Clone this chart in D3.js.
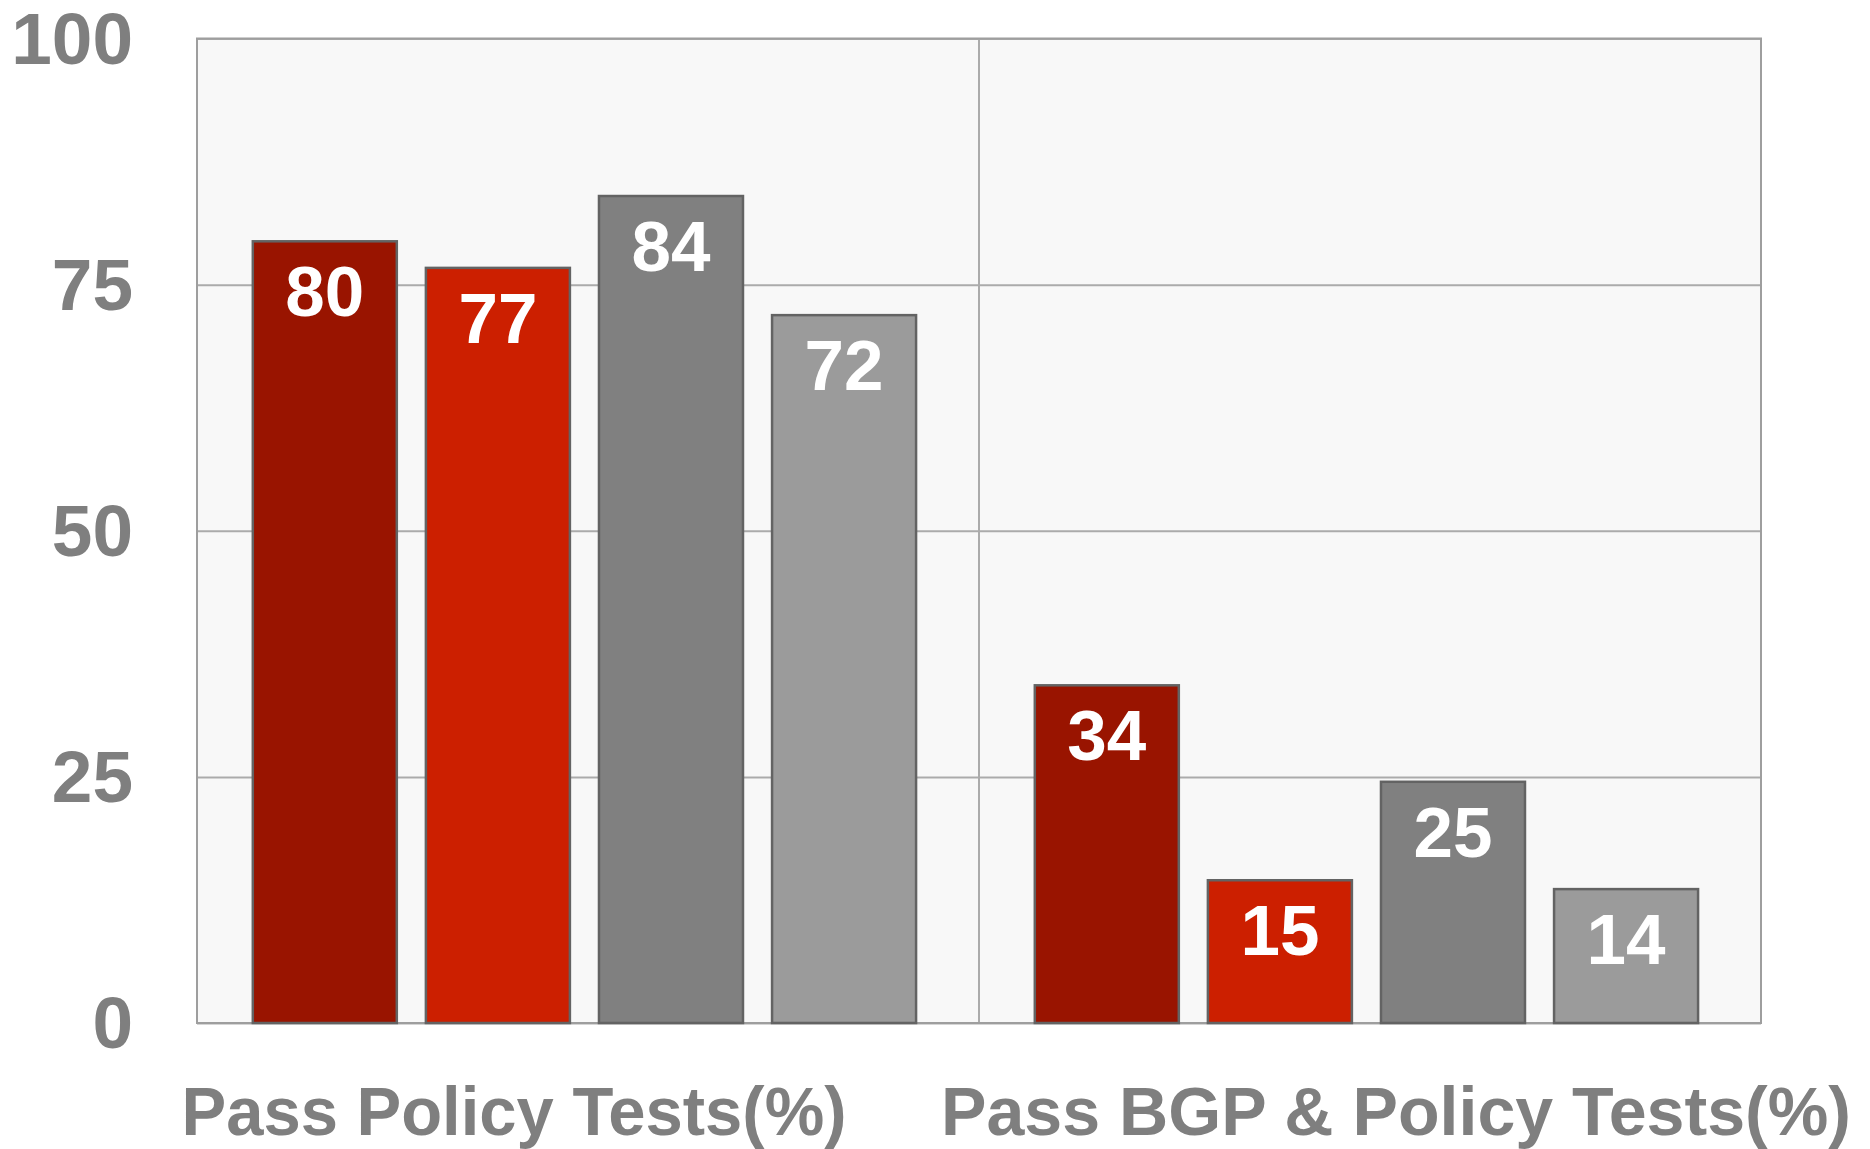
<!DOCTYPE html>
<html>
<head>
<meta charset="utf-8">
<script src="https://cdn.jsdelivr.net/npm/d3@7"></script>
<style>
  body { margin: 0; background: #fff; }
  text { font-family: "Liberation Sans", Arial, Helvetica, sans-serif; font-weight: bold; }
</style>
</head>
<body>
<div id="chart"></div>
<script>
/* Data */
const groups = ["Pass Policy Tests(%)", "Pass BGP & Policy Tests(%)"]
const series = ["s1", "s2", "s3", "s4"]
const colors = ["#991400", "#cc1f00", "#808080", "#9b9b9b"]
const policyValues = [79.4, 76.7, 84.0, 71.9]
const bgpPolicyValues = [34.3, 14.5, 24.5, 13.6]
const policyLabels = ["80", "77", "84", "72"]
const bgpPolicyLabels = ["34", "15", "25", "14"]
const yTicks = [0, 25, 50, 75, 100]

const rows = groups.map((g, i) => ({
  group: g,
  values: series.map((s, j) => ({
    series: s,
    color: colors[j],
    value: (i === 0 ? policyValues : bgpPolicyValues)[j],
    label: (i === 0 ? policyLabels : bgpPolicyLabels)[j]
  }))
}))

/* Chart Dimensions */
const dimensions = {
  width: 1870,
  height: 1149,
  margin: { top: 38.5, right: 109, bottom: 126, left: 197 }
}
dimensions.boundedWidth = dimensions.width - dimensions.margin.left - dimensions.margin.right
dimensions.boundedHeight = dimensions.height - dimensions.margin.top - dimensions.margin.bottom

const svg = d3.select("#chart").append("svg")
    .attr("width", dimensions.width)
    .attr("height", dimensions.height)

const bounds = svg.append("g")
    .attr("transform", `translate(${dimensions.margin.left},${dimensions.margin.top})`)

/* Scales */
const xScale = d3.scaleBand()
    .domain(groups)
    .range([0, dimensions.boundedWidth])
    .padding(0)

const innerScale = d3.scaleBand()
    .domain(series)
    .range([0, xScale.bandwidth()])
    .paddingInner(0.168)
    .paddingOuter(0.343)
    .align(0.47)

const yScale = d3.scaleLinear()
    .domain([0, 100])
    .range([dimensions.boundedHeight, 0])

/* Plot background */
bounds.append("rect")
    .attr("width", dimensions.boundedWidth)
    .attr("height", dimensions.boundedHeight)
    .attr("fill", "#f8f8f8")

/* Gridlines */
const grid = bounds.append("g")
    .call(d3.axisLeft(yScale).tickValues(yTicks).tickSize(-dimensions.boundedWidth).tickFormat(""))
grid.select(".domain").remove()
grid.selectAll("line")
    .attr("stroke", "#ababab")
    .attr("stroke-width", 2)

// group separator
bounds.append("line")
    .attr("x1", xScale(groups[1]))
    .attr("x2", xScale(groups[1]))
    .attr("y1", 0)
    .attr("y2", dimensions.boundedHeight)
    .attr("stroke", "#ababab")
    .attr("stroke-width", 2)

// plot frame
bounds.append("rect")
    .attr("width", dimensions.boundedWidth)
    .attr("height", dimensions.boundedHeight)
    .attr("fill", "none")
    .attr("stroke", "#9e9e9e")
    .attr("stroke-width", 2)

/* Bars */
const groupG = bounds.selectAll(".grp")
    .data(rows)
    .enter().append("g")
    .attr("transform", d => `translate(${xScale(d.group)},0)`)

groupG.selectAll("rect")
    .data(d => d.values)
    .enter().append("rect")
    .attr("x", d => innerScale(d.series))
    .attr("y", d => yScale(d.value))
    .attr("width", innerScale.bandwidth())
    .attr("height", d => dimensions.boundedHeight - yScale(d.value))
    .attr("fill", d => d.color)
    .attr("stroke", "#636363")
    .attr("stroke-width", 2.5)

groupG.selectAll(".val")
    .data(d => d.values)
    .enter().append("text")
    .attr("x", d => innerScale(d.series) + innerScale.bandwidth() / 2)
    .attr("y", d => yScale(d.value) + 75)
    .attr("text-anchor", "middle")
    .attr("fill", "#ffffff")
    .style("font-size", "71px")
    .text(d => d.label)

/* Y axis labels */
const yAxis = bounds.append("g")
    .call(d3.axisLeft(yScale).tickValues(yTicks).tickSize(0).tickPadding(64))
yAxis.select(".domain").remove()
yAxis.selectAll("text")
    .attr("fill", "#7f7f7f")
    .attr("dy", "0.34em")
    .style("font-size", "73px")
    .style("font-family", "'Liberation Sans', Arial, sans-serif")
    .style("font-weight", "bold")

/* X labels */
const xLabelShift = [-74, 26]
const xLabelWidth = [665, 910]
bounds.selectAll(".xlab")
    .data(groups)
    .enter().append("text")
    .attr("x", (d, i) => xScale(d) + xScale.bandwidth() / 2 + xLabelShift[i])
    .attr("y", dimensions.boundedHeight + 112)
    .attr("text-anchor", "middle")
    .attr("fill", "#7f7f7f")
    .attr("textLength", (d, i) => xLabelWidth[i])
    .attr("lengthAdjust", "spacingAndGlyphs")
    .style("font-size", "69px")
    .text(d => d)
</script>
</body>
</html>
